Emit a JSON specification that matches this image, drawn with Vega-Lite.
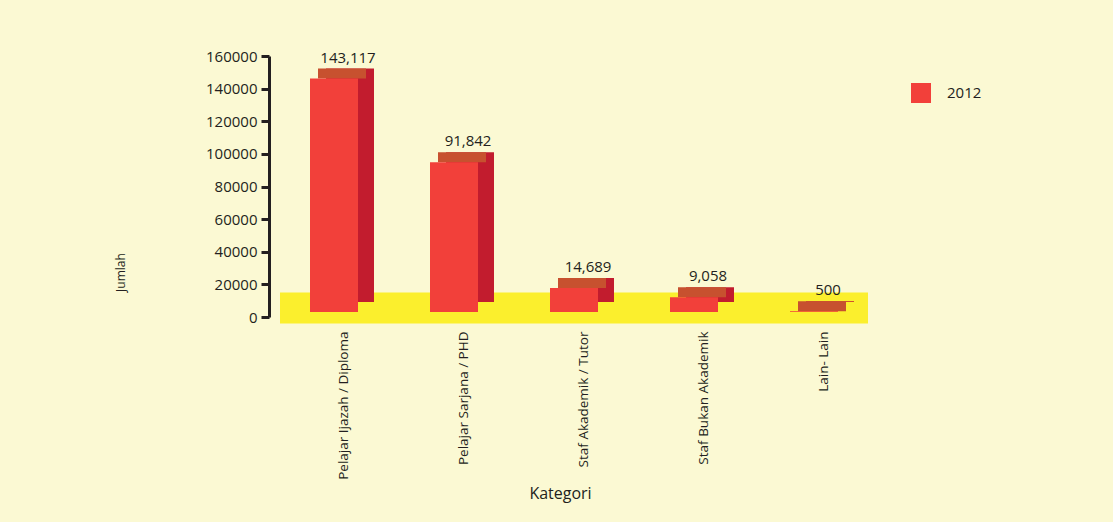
{
  "$schema": "https://vega.github.io/schema/vega-lite/v6.json",
  "width": 588,
  "height": 261,
  "autosize": {"type": "none"},
  "padding": {"left": 280, "top": 56, "right": 245, "bottom": 205},
  "background": "#FBF9D3",
  "config": {
    "view": {"stroke": null},
    "font": "Open Sans",
    "axisY": {
      "values": [0, 20000, 40000, 60000, 80000, 100000, 120000, 140000, 160000],
      "format": "d",
      "grid": false,
      "offset": 11,
      "zindex": 1,
      "domainColor": "#231F20",
      "domainWidth": 3,
      "tickColor": "#231F20",
      "tickWidth": 3,
      "tickSize": 8,
      "labelPadding": 4,
      "labelFontSize": 15,
      "labelColor": "#231F20",
      "labelOverlap": false,
      "titleFontSize": 12,
      "titleFontWeight": "normal",
      "titleColor": "#231F20",
      "titlePadding": 78,
      "titleY": 216
    }
  },
  "data": {
    "values": [
      {"Kategori": "Pelajar Ijazah / Diploma", "Jumlah": 143117, "Tahun": "2012"},
      {"Kategori": "Pelajar Sarjana / PHD", "Jumlah": 91842, "Tahun": "2012"},
      {"Kategori": "Staf Akademik / Tutor", "Jumlah": 14689, "Tahun": "2012"},
      {"Kategori": "Staf Bukan Akademik", "Jumlah": 9058, "Tahun": "2012"},
      {"Kategori": "Lain- Lain", "Jumlah": 500, "Tahun": "2012"}
    ]
  },
  "layer": [
    {
      "data": {"values": [{"floor": "lantai"}]},
      "mark": {"type": "rect", "color": "#FBEF2D"},
      "encoding": {
        "y": {"datum": -4000, "type": "quantitative", "title": "Jumlah"},
        "y2": {"datum": 15000}
      }
    },
    {
      "encoding": {
        "x": {
          "field": "Kategori",
          "type": "nominal",
          "sort": null,
          "scale": {"paddingInner": 0.6, "paddingOuter": 0.25},
          "axis": {
            "labelAngle": -90,
            "labelAlign": "right",
            "labelBaseline": "middle",
            "labelOffset": 10,
            "labelPadding": 14,
            "labelFontSize": 13.5,
            "labelColor": "#231F20",
            "domain": false,
            "ticks": false,
            "title": "Kategori",
            "titleFontSize": 16,
            "titleFontWeight": "normal",
            "titleColor": "#231F20",
            "titlePadding": 6,
            "titleX": 280
          }
        },
        "y": {
          "field": "Jumlah",
          "type": "quantitative",
          "scale": {"domain": [0, 160000], "nice": false},
          "title": "Jumlah"
        }
      },
      "layer": [
        {
          "mark": {"type": "bar", "color": "#C21C2E", "xOffset": 16, "yOffset": -15, "y2Offset": -15}
        },
        {
          "mark": {"type": "bar", "color": "#C7512F", "xOffset": 8, "yOffset": -15, "y2Offset": -5},
          "encoding": {"y2": {"field": "Jumlah"}}
        },
        {
          "mark": {"type": "bar", "yOffset": -5, "y2Offset": -5},
          "encoding": {
            "color": {
              "field": "Tahun",
              "type": "nominal",
              "scale": {"range": ["#F2403A"]},
              "legend": {
                "title": null,
                "orient": "right",
                "offset": 16,
                "padding": 27,
                "symbolType": "square",
                "symbolSize": 400,
                "symbolStrokeWidth": 0,
                "labelFontSize": 15,
                "labelColor": "#231F20",
                "labelOffset": 16
              }
            }
          }
        },
        {
          "mark": {"type": "text", "dx": 14, "dy": -21, "fontSize": 15, "color": "#231F20", "baseline": "alphabetic"},
          "encoding": {"text": {"field": "Jumlah", "type": "quantitative", "format": ","}}
        }
      ]
    }
  ]
}
